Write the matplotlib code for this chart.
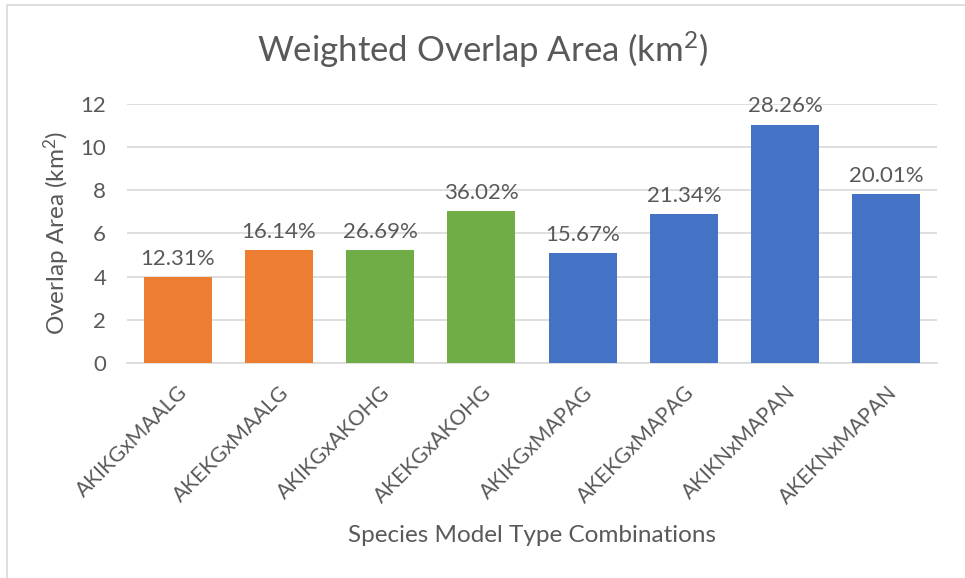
import matplotlib
matplotlib.use("Agg")
import matplotlib.pyplot as plt
from matplotlib.patches import Rectangle

# data
combos = ["AKIKGxMAALG", "AKEKGxMAALG", "AKIKGxAKOHG", "AKEKGxAKOHG",
          "AKIKGxMAPAG", "AKEKGxMAPAG", "AKIKNxMAPAN", "AKEKNxMAPAN"]
overlap_km2 = [3.98, 5.23, 5.23, 7.04, 5.07, 6.90, 11.03, 7.81]
overlap_pct = ["12.31%", "16.14%", "26.69%", "36.02%",
               "15.67%", "21.34%", "28.26%", "20.01%"]
groups = ["MAALG", "MAALG", "AKOHG", "AKOHG", "MAPA", "MAPA", "MAPA", "MAPA"]
GROUP_COLORS = {"MAALG": "#ED7D31", "AKOHG": "#70AD47", "MAPA": "#4472C4"}

TXT = "#595959"
plt.rcParams["font.family"] = ["Lato", "DejaVu Sans"]
plt.rcParams["mathtext.fontset"] = "custom"
plt.rcParams["mathtext.rm"] = "Lato"

fig = plt.figure(figsize=(9.65, 5.78), dpi=100)
ax = fig.add_axes([0.1316, 0.372, 0.8394, 0.4486])

x = range(len(combos))
ax.bar(x, overlap_km2, width=0.67, color=[GROUP_COLORS[g] for g in groups], zorder=3)
for xi, v, lab in zip(x, overlap_km2, overlap_pct):
    ax.annotate(lab, (xi, v), xytext=(0, 6), textcoords="offset points",
                ha="center", va="bottom", fontsize=16, color=TXT)

ax.set_xlim(-0.5, len(combos) - 0.5)
ax.set_ylim(0, 12)
ax.set_yticks(range(0, 13, 2))
ax.grid(axis="y", color="#D9D9D9", linewidth=1.2, zorder=0)
for s in ["top", "right", "left"]:
    ax.spines[s].set_visible(False)
ax.spines["bottom"].set_color("#D9D9D9")
ax.spines["bottom"].set_linewidth(1.2)
ax.tick_params(axis="both", length=0, colors=TXT, labelsize=16)
ax.tick_params(axis="y", pad=15)
ax.set_xticks(list(x))
ax.set_xticklabels(combos, rotation=45, ha="right", va="top",
                   rotation_mode="anchor")
ax.tick_params(axis="x", pad=14, labelsize=15.2)

ax.set_ylabel(r"Overlap Area (km$\mathregular{^2}$)", fontsize=17.5, color=TXT)
ax.yaxis.set_label_coords(-0.068, 0.5)
ax.set_xlabel("Species Model Type Combinations", fontsize=17.5, color=TXT)
ax.xaxis.set_label_coords(0.5, -0.625)
fig.text(0.5, 0.913, r"Weighted Overlap Area (km$\mathregular{^2}$)",
         ha="center", va="center", fontsize=25, color=TXT)

# chart-area border (only left/top visible in the reference crop)
fig.patches.append(Rectangle((7 / 965, -0.1), 1.2, 1.1 - 5 / 578, transform=fig.transFigure,
                             fill=False, edgecolor="#D9D9D9", linewidth=1.2))

fig.savefig("out.png", dpi=100)
